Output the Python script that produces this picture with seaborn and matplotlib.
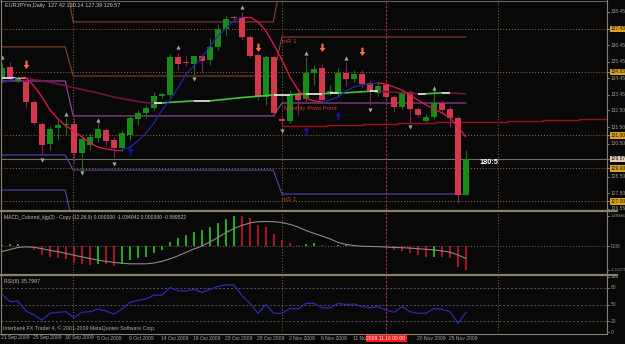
import numpy as np
import pandas as pd
import matplotlib
matplotlib.use("Agg")
import matplotlib.pyplot as plt
import matplotlib.transforms as mtrans
import seaborn as sns
from matplotlib.collections import LineCollection
from matplotlib.lines import Line2D
from matplotlib.path import Path

# ---------------- data ----------------
opens = [134.52, 135.13, 134.28, 134.22, 133.01, 131.68, 130.47, 131.44, 131.62, 131.68,
         129.93, 130.41, 130.84, 131.32, 130.72, 130.23, 131.02, 131.99, 132.35, 132.65,
         133.37, 133.43, 135.73, 135.43, 135.31, 135.79, 135.55, 136.34, 137.42, 138.15,
         138.09, 136.94, 135.85, 133.31, 135.73, 131.99, 131.86, 133.43, 133.19, 134.76,
         135.07, 133.56, 133.56, 134.76, 134.40, 134.70, 134.16, 133.56, 134.04, 133.31,
         132.71, 133.62, 132.59, 131.86, 132.11, 132.95, 132.59, 132.05, 127.42]
highs = [135.37, 135.43, 134.58, 134.34, 133.13, 131.80, 131.56, 131.92, 132.05, 132.05,
         131.02, 131.14, 131.80, 131.44, 130.90, 131.32, 132.23, 132.53, 132.83, 133.62,
         133.56, 135.91, 135.97, 135.85, 135.85, 135.85, 136.88, 137.73, 138.27, 138.27,
         138.45, 137.06, 135.97, 135.85, 135.85, 132.23, 133.74, 133.86, 135.73, 135.25,
         135.31, 134.04, 135.07, 135.43, 134.95, 134.95, 134.34, 134.22, 134.16, 133.43,
         133.74, 133.74, 132.71, 132.29, 133.98, 133.13, 132.77, 132.17, 130.14]
lows = [134.34, 134.34, 134.22, 132.71, 131.62, 129.81, 130.11, 130.72, 131.02, 129.33,
        128.78, 130.11, 130.60, 130.41, 129.63, 129.99, 130.72, 131.62, 132.05, 132.53,
        133.25, 133.31, 134.95, 135.19, 134.64, 134.82, 135.25, 136.15, 137.06, 137.97,
        136.76, 135.67, 133.13, 132.83, 132.11, 131.56, 131.74, 132.23, 133.07, 134.04,
        133.01, 133.43, 133.37, 133.98, 134.22, 133.86, 132.83, 133.37, 133.13, 132.41,
        132.59, 131.74, 132.11, 131.80, 131.99, 132.35, 131.50, 126.91, 127.39]
closes = [135.07, 134.46, 134.46, 133.01, 131.74, 130.41, 131.38, 131.62, 131.68, 129.93,
          130.78, 130.90, 131.38, 130.66, 130.23, 131.14, 132.05, 132.35, 132.65, 133.37,
          133.50, 135.73, 135.31, 135.37, 135.79, 135.49, 136.34, 137.42, 138.03, 138.09,
          136.94, 135.79, 133.31, 135.73, 132.35, 131.86, 133.43, 133.13, 134.76, 135.01,
          133.13, 133.68, 134.76, 134.40, 134.70, 134.10, 133.68, 133.98, 133.31, 132.71,
          133.56, 132.59, 132.23, 132.11, 132.95, 132.53, 132.05, 127.39, 129.57]

ma_fast = [134.16, 134.34, 134.49, 134.46, 133.98, 133.31, 132.53, 131.99, 131.56, 131.26,
           130.90, 130.53, 130.29, 130.17, 130.11, 130.11, 130.29, 130.66, 131.14, 131.74,
           132.53, 133.13, 133.86, 134.70, 135.19, 135.73, 136.40, 137.00, 137.48, 137.91,
           138.15, 138.15, 137.85, 137.30, 136.46, 135.55, 134.52, 133.74, 133.25, 133.07,
           133.01, 133.13, 133.31, 133.68, 133.92, 134.04, 134.10, 134.16, 134.10, 133.92,
           133.74, 133.43, 133.13, 132.83, 132.59, 132.35, 132.05, 131.50, 130.90]
ma_slow = [134.46, 134.46, 134.46, 134.46, 134.37, 134.29, 134.21, 134.10, 133.99, 133.88,
           133.77, 133.66, 133.56, 133.43, 133.31, 133.22, 133.13, 133.04, 132.97, 132.95,
           132.95, 132.99, 133.02, 133.05, 133.08, 133.08, 133.08, 133.13, 133.18, 133.23,
           133.28, 133.32, 133.36, 133.40, 133.45, 133.45, 133.45, 133.48, 133.51, 133.51,
           133.51, 133.54, 133.54, 133.57, 133.60, 133.63, 133.66, 133.66, 133.63, 133.60,
           133.57, 133.54, 133.51, 133.51, 133.54, 133.57, 133.57, 133.53, 133.50]

# monthly pivots (Sep, Oct, Nov)
piv_start = [-0.125, 8.9, 35.0]
piv_end = [7.9, 33.9, 58.0]
piv_R2 = [140.5, 137.85, 140.5]
piv_R1 = [136.34, 134.58, 136.94]
piv_P = [134.28, 132.17, 132.95]
piv_S1 = [129.81, 128.90, 127.45]
piv_S2 = [127.69, 125.5, 125.5]

step_x = [35.0, 40.6, 45.1, 49.5, 54.1, 58.6, 63.1, 67.6, 72.1, 75.625]
step_y = [131.56, 131.62, 131.68, 131.72, 131.78, 131.82, 131.86, 131.94, 132.00, 132.00]

down_arrows_bar = [3, 32, 40, 45]
down_arrows_y = [135.25, 136.30, 136.28, 136.03]
up_arrows_bar = [16, 38, 42]
up_arrows_y = [130.11, 131.32, 132.23]
frac_up_bar = [0, 8, 12, 22, 30, 38, 43, 54]
frac_up_y = [135.73, 132.29, 131.92, 136.34, 138.75, 135.97, 135.67, 133.86]
frac_dn_bar = [5, 10, 14, 24, 35, 46, 51]
frac_dn_y = [129.51, 128.72, 129.27, 134.40, 131.26, 132.53, 131.50]

level_lines = [137.43, 134.83, 131.00, 129.00, 127.00]
bid = 129.57
month_sep_bars = [8.875, 35.0, 62.0]
cursor_bar = 48

macd_hist = [0.07, 0.10, 0.10, 0.03, -0.15, -0.40, -0.52, -0.58, -0.63, -0.82,
             -0.87, -0.92, -0.87, -0.88, -0.97, -0.87, -0.68, -0.58, -0.52, -0.32,
             -0.16, 0.21, 0.42, 0.58, 0.69, 0.82, 0.97, 1.15, 1.34, 1.489,
             1.47, 1.39, 1.07, 0.97, 0.62, 0.32, 0.16, 0.08, 0.10, 0.15,
             0.05, 0.02, 0.05, 0.06, 0.07, 0.01, 0.00, -0.01, -0.05, -0.19,
             -0.23, -0.31, -0.40, -0.52, -0.50, -0.52, -0.57, -1.00, -1.153]
macd_signal = [-0.25, -0.15, -0.05, -0.02, -0.04, -0.11, -0.19, -0.26, -0.34, -0.43,
               -0.51, -0.59, -0.67, -0.73, -0.78, -0.82, -0.85, -0.85, -0.85, -0.81,
               -0.73, -0.61, -0.46, -0.29, -0.12, 0.02, 0.22, 0.44, 0.68, 0.88,
               1.03, 1.15, 1.21, 1.22, 1.21, 1.17, 1.08, 0.95, 0.78, 0.64,
               0.51, 0.37, 0.20, 0.10, 0.04, 0.01, 0.00, -0.01, -0.03, -0.05,
               -0.06, -0.08, -0.11, -0.14, -0.17, -0.22, -0.28, -0.42, -0.59]
rsi = [68.5, 55, 56.4, 38, 31, 21.8, 34, 35.8, 37, 26,
       35.8, 37, 41.8, 38, 32.7, 41.8, 54, 57.6, 60, 67,
       67, 81, 75, 74.5, 77.6, 72, 77.6, 83, 85.5, 85.5,
       66, 52, 34, 50, 34, 34, 43, 41.8, 52, 52,
       44, 44, 52, 50, 51, 46, 44, 46, 40, 35.8,
       46, 37, 34, 34, 43, 41, 37, 15.8, 35.8]

date_labels = ["21 Sep 2009", "25 Sep 2009", "30 Sep 2009", "5 Oct 2009", "9 Oct 2009",
               "14 Oct 2009", "19 Oct 2009", "23 Oct 2009", "28 Oct 2009", "2 Nov 2009",
               "6 Nov 2009", "11 Nov 2009", "", "20 Nov 2009", "25 Nov 2009"]
price_ticks = [138.45, 136.45, 135.45, 134.45, 133.45, 132.50, 131.50, 130.50, 128.50, 127.50, 126.55]
macd_ticks = [1.48946, 0.0, -1.15279]
macd_tick_labels = ["1.48946", "0.00", "-1.15279"]
rsi_ticks = [100, 80, 50, 20, 0]

title_main = "EURJPYm,Daily  127.42 130.14 127.39 129.57"
title_macd = "MACD_Colored_kjg(2) - Copy (12,26,9) 0.000000 -1.034042 0.000000 -0.589522"
title_rsi = "RSI(8) 35.7997"
copyright_txt = "Interbank FX Trader 4, \u00a9 2001-2009 MetaQuotes Software Corp."
cursor_label = "2009.11.16 00:00"
timer_label = "180:5"

# ---------------- style ----------------
BG = "#080808"
sns.set_theme(style="dark", rc={"axes.facecolor": BG, "figure.facecolor": BG})
plt.rcParams["font.family"] = ["Liberation Sans", "DejaVu Sans"]

W, H = 625, 344
fig = plt.figure(figsize=(W / 100, H / 100), dpi=100)
fig.patch.set_facecolor(BG)


def rect(x0, y0, x1, y1):
    return [x0 / W, 1 - y1 / H, (x1 - x0) / W, (y1 - y0) / H]


ax = fig.add_axes(rect(1, 2, 607, 210))
axm = fig.add_axes(rect(1, 212, 607, 273))
axr = fig.add_axes(rect(1, 276, 607, 333))
XL = (-0.125, 75.625)
for a in (ax, axm, axr):
    a.set_xlim(*XL)
    a.set_facecolor(BG)
    a.set_xticks([])
    a.set_yticks([])
    for s in a.spines.values():
        s.set_visible(False)
    a.grid(False)

ax.set_ylim(126.486, 139.054)
axm.set_ylim(-1.299, 1.685)
axr.set_ylim(-1.8, 101.8)

n = len(opens)
bars = np.arange(n)
df = pd.DataFrame({"bar": bars, "open": opens, "high": highs, "low": lows, "close": closes,
                   "ma_fast": ma_fast, "ma_slow": ma_slow, "hist": macd_hist,
                   "signal": macd_signal, "rsi": rsi})

# ---------------- main panel ----------------
DOT = (0, (1, 2))
for lv in level_lines:
    ax.axhline(lv, color="#b06a28", lw=0.7, ls=DOT, zorder=1)
ax.axhline(bid, color="#6e6e6e", lw=0.8, zorder=1)
for a in (ax, axm, axr):
    for vb in month_sep_bars:
        a.axvline(vb, color="#8a6a3a", lw=0.7, ls=DOT, zorder=1)
    a.axvline(cursor_bar, color="#c0205a", lw=0.8, ls=(0, (2, 1.5)), zorder=1)


def piv_line(vals, color):
    xs, ys = [], []
    for s, e, v in zip(piv_start, piv_end, vals):
        xs += [s, e]
        ys += [v, v]
    ax.plot(xs, ys, color=color, lw=0.8, zorder=2)


for vals in (piv_R2, piv_R1):
    piv_line(vals, "#8a3e34")
piv_line(piv_P, "#9c48a8")
for vals in (piv_S1, piv_S2):
    piv_line(vals, "#5448a8")

ax.plot(step_x, step_y, color="#a01018", lw=1.0, drawstyle="steps-post", zorder=2)

# candles
up = df["close"] >= df["open"]
wick_cols = np.where(up, "#1f6e1f", "#7a2060")
ax.vlines(df["bar"], df["low"], df["high"], colors=wick_cols, lw=0.8, zorder=3)
body_bottom = np.minimum(df["open"], df["close"])
body_h = np.maximum(np.abs(df["close"] - df["open"]), 0.035)
body_cols = np.where(up, "#178a17", "#d4384a")
ax.bar(df["bar"], body_h, bottom=body_bottom, width=0.7, color=body_cols,
       edgecolor="none", zorder=4)


def colored_line(a, xs, ys, up_c, dn_c, flat_c=None, thr=0.0, lw=1.0):
    segs, cols = [], []
    for k in range(1, len(xs)):
        d = ys[k] - ys[k - 1]
        if flat_c is not None and abs(d) <= thr:
            c = flat_c
        elif d > 0:
            c = up_c
        else:
            c = dn_c
        segs.append([(xs[k - 1], ys[k - 1]), (xs[k], ys[k])])
        cols.append(c)
    a.add_collection(LineCollection(segs, colors=cols, linewidths=lw, zorder=5))


colored_line(ax, bars, ma_slow, "#3cc83c", "#7a1042", flat_c="#f0f0f0", thr=0.015, lw=1.2)
colored_line(ax, bars, ma_fast, "#2424b0", "#e8184c", lw=0.9)

# arrows
down_path = Path([(-0.22, 1.0), (0.22, 1.0), (0.22, 0.1), (0.6, 0.1), (0.0, -0.7),
                  (-0.6, 0.1), (-0.22, 0.1), (-0.22, 1.0)],
                 [Path.MOVETO] + [Path.LINETO] * 6 + [Path.CLOSEPOLY])
up_path = Path([(x, -y) for x, y in down_path.vertices], down_path.codes)
ax.plot(down_arrows_bar, down_arrows_y, ls="none", marker=down_path, ms=7,
        color="#ff6a48", mec="none", zorder=6)
ax.plot(up_arrows_bar, up_arrows_y, ls="none", marker=up_path, ms=7,
        color="#1414a0", mec="none", zorder=6)
ax.plot(frac_up_bar, frac_up_y, ls="none", marker="^", ms=3, color="#a8a8a8",
        mec="none", zorder=6)
ax.plot(frac_dn_bar, frac_dn_y, ls="none", marker="v", ms=3, color="#a8a8a8",
        mec="none", zorder=6)

lab_c = "#e0383a"
ax.text(35.0, 136.64, "mR 1", color=lab_c, fontsize=4.4, va="center", ha="left", zorder=7)
ax.text(35.2, 132.62, "Monthly Pivot Point", color=lab_c, fontsize=4.4, va="center",
        ha="left", zorder=7)
ax.text(35.0, 127.15, "mS 1", color=lab_c, fontsize=4.4, va="center", ha="left", zorder=7)
ax.text(59.75, 129.36, timer_label, color="#ffffff", fontsize=5.3, fontweight="bold",
        va="center", ha="left", zorder=7)

# right axis labels
AXC = "#a09888"


def rlabel(a, val, txt, fc=None, tc=AXC, fs=3.5):
    tr = a.get_yaxis_transform()
    a.plot([1.0, 1.004], [val, val], transform=tr, color=AXC, lw=0.6, clip_on=False)
    kw = {}
    if fc is not None:
        kw["bbox"] = dict(boxstyle="square,pad=0.15", fc=fc, ec="none")
    a.text(1.0055, val, txt, transform=tr, fontsize=fs, color=tc, va="center",
           ha="left", clip_on=False, **kw)


for v in price_ticks:
    rlabel(ax, v, f"{v:.2f}")
for v in level_lines:
    rlabel(ax, v, f"{v:.2f}", fc="#d8a420", tc="#1a1400")
rlabel(ax, bid, f"{bid:.2f}", fc="#dccfb8", tc="#1a1400")

# ---------------- MACD panel ----------------
hist_cols = ["#22aa22" if (k == 0 or macd_hist[k] >= macd_hist[k - 1]) else "#b01020"
             for k in range(n)]
axm.axhline(0, color="#6a6a6a", lw=0.7, ls=DOT, zorder=1)
axm.bar(bars, macd_hist, width=0.26, color=hist_cols, edgecolor="none", zorder=3)
sns.lineplot(data=df, x="bar", y="signal", ax=axm, color="#8a8a8a", lw=0.8, zorder=4)
for v, t in zip(macd_ticks, macd_tick_labels):
    rlabel(axm, v, t, fs=3.5 if len(t) < 6 else 3.0)

# ---------------- RSI panel ----------------
for lv in (80, 50, 20):
    axr.axhline(lv, color="#5a5a5a", lw=0.7, ls=(0, (2, 2)), zorder=1)
sns.lineplot(data=df, x="bar", y="rsi", ax=axr, color="#2a2ab8", lw=0.9, zorder=3)
for v in rsi_ticks:
    rlabel(axr, v, f"{v}")

for a in (ax, axm, axr):
    a.set_xlabel("")
    a.set_ylabel("")
    a.set_xlim(*XL)

# ---------------- frame ----------------
FRC = "#8a7f6c"


def fline(x0, y0, x1, y1, color=FRC, lw=0.8):
    fig.add_artist(Line2D([x0 / W, x1 / W], [1 - y0 / H, 1 - y1 / H],
                          transform=fig.transFigure, color=color, lw=lw))


fline(0, 1, 607, 1, color="#6a6258")
fline(1, 0, 1, 334)
fline(607, 0, 607, 334)
fline(0, 211, 617, 211, lw=1.6)
fline(0, 274.5, 617, 274.5, lw=1.6)
fline(0, 334, 607, 334)

# titles
fig.text(5 / W, 1 - 6 / H, title_main, color="#c8c8c8", fontsize=4.0, va="center")
fig.text(4 / W, 1 - 217 / H, title_macd, color="#c0c0c0", fontsize=3.6, va="center")
fig.text(4 / W, 1 - 282 / H, title_rsi, color="#c0c0c0", fontsize=3.8, va="center")
fig.text(3 / W, 1 - 328 / H, copyright_txt, color="#b0b0b0", fontsize=3.8, va="center")

# x labels
xtr = mtrans.blended_transform_factory(axr.transData, fig.transFigure)
for k, lab in enumerate(date_labels):
    if not lab:
        continue
    xb = k * 4 - 0.125
    axr.text(xb, 1 - 338 / H, lab, transform=xtr, fontsize=3.6, color="#a8a8a8",
             va="center", ha="left", clip_on=False, zorder=1)
axr.text(cursor_bar, 1 - 338 / H, cursor_label, transform=xtr, fontsize=3.6,
         color="#ffffff", va="center", ha="center", clip_on=False, zorder=5,
         bbox=dict(boxstyle="square,pad=0.2", fc="#ff1414", ec="none"))

fig.savefig("out.png", dpi=100, facecolor=BG)
